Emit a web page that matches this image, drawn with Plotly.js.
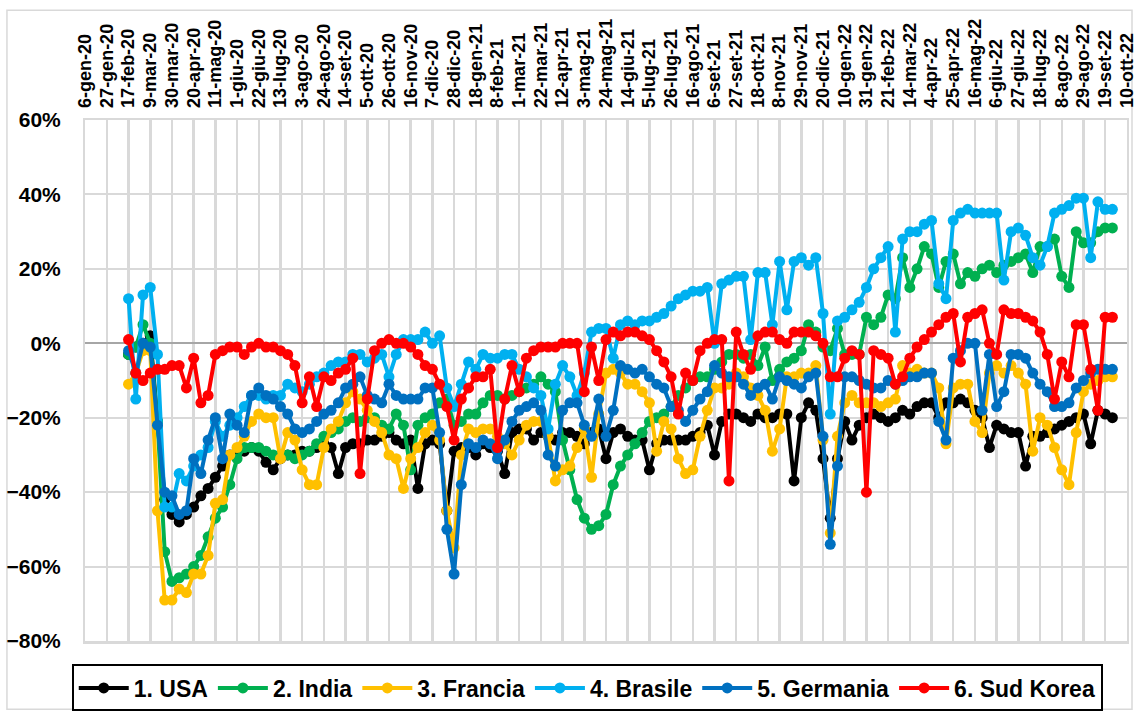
<!DOCTYPE html>
<html>
<head>
<meta charset="utf-8">
<script src="https://cdn.plot.ly/plotly-3.0.1.min.js"></script>
<style>
html,body{margin:0;padding:0;background:#fff;}
#chart{width:1136px;height:720px;}
</style>
</head>
<body>
<div id="chart"></div>
<script>
// Tick labels (every 3 weeks starting 6-gen-20)
const weekLabels = ["6-gen-20","27-gen-20","17-feb-20","9-mar-20","30-mar-20","20-apr-20","11-mag-20","1-giu-20","22-giu-20","13-lug-20","3-ago-20","24-ago-20","14-set-20","5-ott-20","26-ott-20","16-nov-20","7-dic-20","28-dic-20","18-gen-21","8-feb-21","1-mar-21","22-mar-21","12-apr-21","3-mag-21","24-mag-21","14-giu-21","5-lug-21","26-lug-21","16-ago-21","6-set-21","27-set-21","18-ott-21","8-nov-21","29-nov-21","20-dic-21","10-gen-22","31-gen-22","21-feb-22","14-mar-22","4-apr-22","25-apr-22","16-mag-22","6-giu-22","27-giu-22","18-lug-22","8-ago-22","29-ago-22","19-set-22","10-ott-22"];

// Series names
const seriesNames = ["1. USA","2. India","3. Francia","4. Brasile","5. Germania","6. Sud Korea"];

// First data week (week index, 0 = 6-gen-20); weekly values (%)
const firstWeek = 6;

const usa = [-3,-1,0,2,-21,-42,-46,-48,-46,-44,-41,-39,-36,-33,-30,
-29,-29,-28,-29,-32,-34,-31,-30,-30,-29,-29,-28,-27,-28,-35,-28,-27,
-27,-26,-26,-25,-24,-26,-27,-26,-39,-27,-26,-27,-45,-29,-28,-28,-30,
-27,-28,-29,-35,-24,-23,-23,-26,-24,-25,-26,-24,-24,-25,-27,-24,-23,
-31,-24,-23,-25,-26,-26,-34,-27,-26,-26,-26,-26,-25,-24,-22,-30,-21,-19,
-19,-20,-21,-19,-20,-20,-19,-19,-37,-20,-16,-18,-31,-47,-31,-21,-26,
-22,-20,-19,-20,-21,-20,-18,-19,-17,-16,-16,-20,-16,-16,-15,-16,-18,
-20,-28,-22,-23,-24,-24,-33,-25,-25,-24,-23,-22,-21,-20,-19,-27,-18,-19,-20];

const india = [-3,-1,5,0,-21,-56,-64,-63,-62,-60,-57,-52,-47,-44,-38,
-31,-28,-28,-28,-29,-30,-30,-30,-31,-30,-29,-27,-25,-24,-23,-21,-20,
-21,-20,-20,-22,-23,-19,-22,-34,-22,-20,-19,-16,-15,-22,-21,-19,-19,
-16,-14,-14,-15,-14,-13,-12,-11,-9,-11,-13,-26,-34,-42,-47,-50,-49,
-46,-38,-33,-30,-27,-24,-21,-20,-19,-17,-14,-12,-10,-9,-9,-7,-5,-3,
-3,-4,-3,-6,-1,-10,-7,-5,-4,-2,5,3,-1,-2,4,-3,-3,
-3,7,5,7,13,12,23,15,20,26,24,15,22,24,16,19,18,
20,21,19,21,22,23,24,19,26,26,28,18,15,30,27,27,30,31,31];

const francia = [-11,-8,-2,-2,-45,-69,-69,-66,-67,-62,-62,-57,-43,-42,-30,
-28,-25,-21,-19,-20,-20,-31,-24,-26,-34,-38,-38,-28,-23,-21,-16,-13,
-15,-18,-21,-24,-30,-31,-39,-31,-28,-24,-22,-26,-45,-55,-30,-23,-24,
-23,-23,-25,-27,-30,-26,-22,-21,-21,-25,-37,-34,-33,-28,-23,-36,-19,
-8,-7,-8,-11,-11,-13,-16,-29,-21,-23,-31,-35,-34,-25,-18,-12,-12,-11,
-8,-9,-12,-14,-18,-29,-23,-9,-9,-8,-8,-6,-26,-51,-25,-16,-14,
-16,-16,-16,-17,-16,-15,-6,-8,-7,-8,-8,-12,-27,-12,-11,-11,-21,
-24,-8,-6,-8,-6,-8,-11,-29,-20,-22,-28,-34,-38,-24,-13,-11,-10,-9,-9];

const brasile = [12,-15,13,15,-3,-44,-44,-35,-37,-33,-30,-28,-21,-25,-22,
-20,-17,-14,-14,-15,-14,-14,-11,-12,-13,-11,-9,-8,-6,-5,-5,-3,
-3,-5,-4,-3,-9,-3,1,1,1,3,0,2,-12,-17,-11,-5,-7,
-3,-4,-4,-3,-3,-7,-9,-12,-14,-23,-11,-6,-9,-14,-8,3,4,
4,-4,5,6,5,6,6,7,8,10,12,13,14,14,15,0,16,17,
18,18,1,19,19,5,22,9,22,23,21,23,8,-19,6,7,9,
11,15,20,23,26,3,28,30,30,32,33,16,12,33,35,36,35,
35,35,35,17,30,31,29,23,21,26,35,36,37,39,39,23,38,36,36];

const germania = [-2,-8,0,-1,-22,-40,-41,-46,-45,-31,-35,-26,-20,-31,-19,
-22,-24,-14,-12,-14,-15,-17,-19,-23,-24,-23,-21,-19,-18,-16,-12,-11,
-9,-14,-15,-16,-11,-14,-15,-15,-15,-12,-12,-24,-50,-62,-38,-27,-28,
-26,-27,-31,-26,-21,-18,-17,-16,-18,-30,-33,-18,-16,-16,-22,-25,-15,
-25,-18,-6,-7,-8,-7,-9,-11,-12,-17,-18,-21,-18,-15,-13,-6,-8,-9,
-9,-11,-14,-12,-11,-15,-9,-10,-11,-12,-9,-8,-25,-54,-33,-9,-9,
-10,-11,-12,-12,-10,-11,-10,-9,-9,-8,-8,-21,-26,-4,-2,0,0,
-18,-3,-17,-13,-3,-3,-4,-8,-11,-13,-17,-17,-16,-12,-10,-8,-7,-7,-7];

const sudKorea = [1,-8,-10,-8,-7,-7,-6,-6,-12,-4,-16,-14,-3,-2,-1,
-1,-3,-1,0,-1,-1,-2,-3,-6,-16,-9,-17,-9,-10,-8,-7,-4,
-35,-15,-2,0,1,0,0,-1,-3,-6,-7,-11,-17,-26,-15,-12,-9,
-9,-7,-28,-15,-6,-13,-4,-2,-1,-1,-1,0,0,0,-13,-1,-10,
1,3,2,3,3,2,1,-2,-5,-9,-19,-8,-10,-2,0,1,1,-37,
3,-3,-7,2,3,3,1,0,3,3,3,2,0,-9,-9,-4,-2,
-3,-40,-2,-3,-4,-11,-9,-4,-1,1,3,5,7,8,-5,7,8,
9,0,-3,9,8,8,7,6,3,-3,-15,-5,-9,5,5,-7,-18,7,7];

const seriesValues = [usa, india, francia, brasile, germania, sudKorea];
const seriesColors = ["#000000","#00B050","#FFC000","#00B0F0","#0070C0","#FF0000"];

const traces = seriesValues.map((vals, k) => ({
  type: "scatter",
  mode: "lines+markers",
  name: seriesNames[k],
  x: vals.map((_, i) => firstWeek + i),
  y: vals,
  line: {color: seriesColors[k], width: 4},
  marker: {color: seriesColors[k], size: 11},
  hoverinfo: "skip"
}));

const tickPositions = weekLabels.map((_, i) => i * 3);
const FONT = "Liberation Sans, Arial, sans-serif";

const layout = {
  width: 1136,
  height: 720,
  margin: {l: 85, r: 9, t: 120, b: 73},
  paper_bgcolor: "#ffffff",
  plot_bgcolor: "#ffffff",
  showlegend: true,
  xaxis: {
    range: [-0.02, 144.02],
    side: "top",
    tickmode: "array",
    tickvals: tickPositions,
    ticktext: weekLabels,
    tickangle: -90,
    tickfont: {family: FONT, size: 18, color: "#000", weight: "bold"},
    ticklabeloverflow: "allow",
    ticks: "",
    ticklabelstandoff: 6,
    showgrid: true,
    gridcolor: "#D9D9D9",
    gridwidth: 2.5,
    showline: true,
    linecolor: "#D9D9D9",
    linewidth: 2.5,
    mirror: true,
    zeroline: false,
    fixedrange: true
  },
  yaxis: {
    range: [-80, 60],
    tick0: 0,
    dtick: 20,
    ticksuffix: "%",
    tickfont: {family: FONT, size: 21, color: "#000", weight: "bold"},
    ticks: "",
    ticklabelstandoff: 18,
    showgrid: true,
    gridcolor: "#D9D9D9",
    gridwidth: 2,
    zeroline: true,
    zerolinecolor: "#A6A6A6",
    zerolinewidth: 2,
    showline: true,
    linecolor: "#D9D9D9",
    linewidth: 2,
    mirror: true,
    fixedrange: true
  },
  legend: {
    orientation: "h",
    x: 0.482,
    xanchor: "center",
    y: -0.045,
    yanchor: "top",
    bordercolor: "#000000",
    borderwidth: 2,
    bgcolor: "#ffffff",
    font: {family: FONT, size: 23, color: "#000", weight: "bold"},
    itemwidth: 50
  },
  shapes: [{
    type: "rect", xref: "paper", yref: "paper",
    x0: -0.0749, x1: 1.0048, y0: -0.131, y1: 1.2106,
    line: {color: "#D9D9D9", width: 1.5}, fillcolor: "rgba(0,0,0,0)", layer: "below"
  }]
};

Plotly.newPlot("chart", traces, layout, {displayModeBar: false, staticPlot: true});
</script>
</body>
</html>
